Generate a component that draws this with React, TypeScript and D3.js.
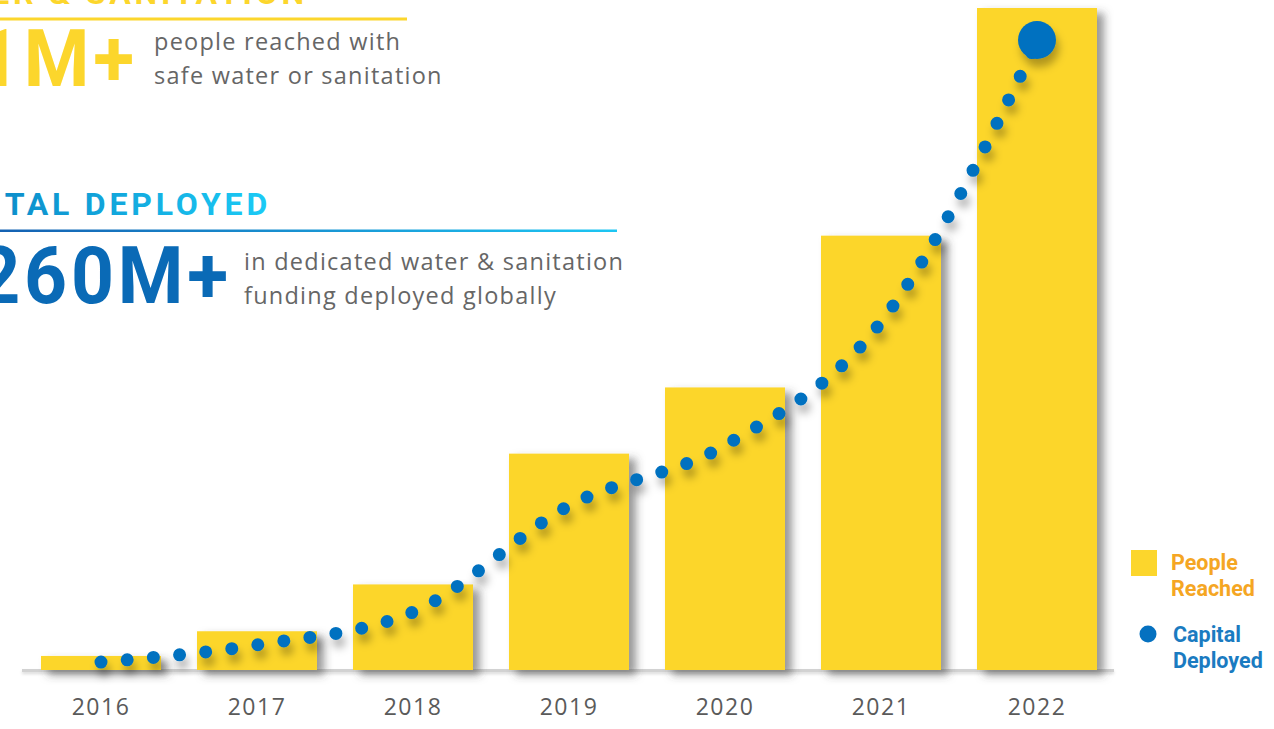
import React from "react";
import * as d3 from "d3";

const years = ["2016", "2017", "2018", "2019", "2020", "2021", "2022"];
// People reached (millions)
const peopleReached = [0.87, 2.4, 5.3, 13.4, 17.5, 26.9, 41];
// Capital deployed (USD millions)
const capitalDeployed = [3.3, 10.4, 24, 68, 93, 144, 260];
const legendLabels = [["People", "Reached"], ["Capital", "Deployed"]];

const W = 1274;
const H = 729;
const YELLOW = "#FCD62C";
const BLUE = "#0571C0";

export default function App() {
  const x = d3
    .scaleBand<string>()
    .domain(years)
    .range([23, 1115])
    .paddingInner(36 / 156)
    .paddingOuter(18 / 156);
  const yPeople = d3.scaleLinear().domain([0, 41]).range([670, 8]);
  const yCapital = d3.scaleLinear().domain([0, 260]).range([670, 42]);

  const cx = (d: string) => (x(d) as number) + x.bandwidth() / 2;
  const line = d3
    .line<number>()
    .x((_, i) => cx(years[i]))
    .y((d) => yCapital(d))
    .curve(d3.curveMonotoneX);
  const pathD = line(capitalDeployed) || "";
  const last = capitalDeployed.length - 1;

  const textFont = "'Open Sans', 'DejaVu Sans', sans-serif";
  const boldFont = "Roboto, 'Liberation Sans', sans-serif";

  return (
    <svg
      width={W}
      height={H}
      viewBox={`0 0 ${W} ${H}`}
      style={{ position: "absolute", left: 0, top: 0, background: "#fff" }}
    >
      <defs>
        <filter id="barShadow" x="-20%" y="-20%" width="150%" height="150%">
          <feDropShadow dx="7" dy="5" stdDeviation="4" floodColor="#444" floodOpacity="0.55" />
        </filter>
        <filter id="dotShadow" x="-20%" y="-20%" width="150%" height="150%">
          <feDropShadow dx="3" dy="8" stdDeviation="4.5" floodColor="#000" floodOpacity="0.3" />
        </filter>
        <filter id="axisShadow" x="-5%" y="-200%" width="110%" height="500%">
          <feDropShadow dx="0" dy="2" stdDeviation="1.5" floodColor="#000" floodOpacity="0.15" />
        </filter>
        <linearGradient id="blueText" gradientUnits="userSpaceOnUse" x1="0" y1="0" x2="230" y2="0">
          <stop offset="0" stopColor="#0A6AB6" />
          <stop offset="1" stopColor="#1DC3F0" />
        </linearGradient>
        <linearGradient id="blueHead" gradientUnits="userSpaceOnUse" x1="0" y1="0" x2="270" y2="0">
          <stop offset="0" stopColor="#0C8DCA" />
          <stop offset="1" stopColor="#1BCBF6" />
        </linearGradient>
        <linearGradient id="blueRule" gradientUnits="userSpaceOnUse" x1="0" y1="0" x2="617" y2="0">
          <stop offset="0" stopColor="#1461B2" />
          <stop offset="1" stopColor="#1DC6F3" />
        </linearGradient>
      </defs>

      {/* Header blocks */}
      <text
        x={308}
        y={4}
        textAnchor="end"
        fontFamily={boldFont}
        fontWeight={700}
        fontSize={32}
        letterSpacing={3.8}
        fill={YELLOW}
      >
        WATER &amp; SANITATION
      </text>
      <rect x={0} y={17.5} width={407} height={3} fill={YELLOW} />
      <text
        transform="translate(138,86) scale(0.95,1)"
        textAnchor="end"
        fontFamily={boldFont}
        fontWeight={700}
        fontSize={79}
        letterSpacing={4}
        fill={YELLOW}
      >
        41M+
      </text>
      <text fontFamily={textFont} fontSize={23.5} fill="#666" letterSpacing={1.25}>
        <tspan x={154} y={50}>people reached with</tspan>
        <tspan x={154} y={84}>safe water or sanitation</tspan>
      </text>

      <text
        x={271}
        y={215}
        textAnchor="end"
        fontFamily={boldFont}
        fontWeight={700}
        fontSize={32}
        letterSpacing={3.8}
        fill="url(#blueHead)"
      >
        CAPITAL DEPLOYED
      </text>
      <rect x={0} y={229.5} width={617} height={2.5} fill="url(#blueRule)" />
      <text
        transform="translate(232,303) scale(0.95,1)"
        textAnchor="end"
        fontFamily={boldFont}
        fontWeight={700}
        fontSize={79}
        letterSpacing={4}
        fill="url(#blueText)"
      >
        $260M+
      </text>
      <text fontFamily={textFont} fontSize={23.5} fill="#666" letterSpacing={1.25}>
        <tspan x={244} y={270}>in dedicated water &amp; sanitation</tspan>
        <tspan x={244} y={304}>funding deployed globally</tspan>
      </text>

      {/* Axis baseline */}
      <rect
        x={x.range()[0] - 1}
        y={669}
        width={x.range()[1] - x.range()[0]}
        height={3}
        fill="#d2d2d2"
        filter="url(#axisShadow)"
      />

      {/* Bars */}
      <g filter="url(#barShadow)">
        {years.map((yr, i) => (
          <rect
            key={yr}
            x={x(yr)}
            y={yPeople(peopleReached[i])}
            width={x.bandwidth()}
            height={yPeople(0) - yPeople(peopleReached[i])}
            fill={YELLOW}
          />
        ))}
      </g>

      {/* Dotted capital line */}
      <g filter="url(#dotShadow)">
        <path
          d={pathD}
          fill="none"
          stroke={BLUE}
          strokeWidth={13}
          strokeLinecap="round"
          strokeDasharray="0 26.3"
        />
        <circle cx={cx(years[last])} cy={yCapital(capitalDeployed[last]) - 2} r={19} fill={BLUE} />
      </g>

      {/* Year labels */}
      {years.map((yr) => (
        <text
          key={yr}
          x={cx(yr)}
          y={715}
          textAnchor="middle"
          fontFamily={textFont}
          fontSize={23}
          letterSpacing={1.5}
          fill="#5a5a5a"
        >
          {yr}
        </text>
      ))}

      {/* Legend */}
      <rect x={1131} y={550} width={26} height={26} fill={YELLOW} />
      <text fontFamily={boldFont} fontWeight={700} fontSize={21.5} fill="#F5A623">
        <tspan x={1171} y={570}>{legendLabels[0][0]}</tspan>
        <tspan x={1171} y={596}>{legendLabels[0][1]}</tspan>
      </text>
      <circle cx={1148} cy={634} r={8.5} fill={BLUE} />
      <text fontFamily={boldFont} fontWeight={700} fontSize={21.5} fill="#1A7BC1">
        <tspan x={1173} y={642}>{legendLabels[1][0]}</tspan>
        <tspan x={1173} y={668}>{legendLabels[1][1]}</tspan>
      </text>
    </svg>
  );
}
